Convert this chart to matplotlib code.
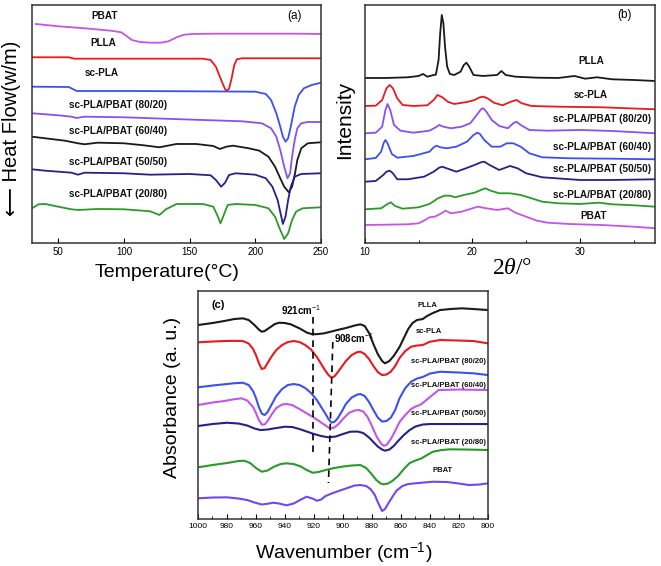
import numpy as np
import matplotlib
matplotlib.use('Agg')
import matplotlib.pyplot as plt

plt.rcParams['font.family'] = ['Liberation Sans', 'DejaVu Sans']
plt.rcParams['mathtext.fontset'] = 'custom'
plt.rcParams['mathtext.rm'] = 'Liberation Sans'
plt.rcParams['mathtext.it'] = 'Liberation Serif:italic'

# colours
BLACK = '#1a1a1a'
RED = '#e8191f'
BLUE = '#3c4ff0'
VIOLET = '#8a50f0'
MAGENTA = '#c455e8'
NAVY = '#22228a'
GREEN = '#2a9a2a'
PURPLE = '#7048f0'

# ---- (a) DSC : temperature (C) vs heat flow (a.u.) ----
a_pbat_t = [33, 50, 70, 90, 98, 102, 106, 112, 120, 128, 134, 140, 146, 152, 170, 200, 230, 250]
a_pbat_h = [219.0, 216.7, 214.7, 212.3, 210.7, 207.0, 203.0, 201.0, 200.3, 200.3, 201.7, 205.7,
            208.3, 209.0, 209.3, 209.3, 209.3, 209.0]
a_plla_t = [30, 58, 62, 100, 150, 160, 166, 170, 174, 177, 178.5, 180, 182, 184, 186, 190, 220, 250]
a_plla_h = [185.7, 185.7, 184.3, 184.3, 184.3, 184.3, 183.0, 176.3, 163.0, 153.7, 152.3, 154.3,
            164.7, 178.0, 183.7, 184.7, 184.7, 184.7]
a_scpla_t = [30, 58, 64, 100, 150, 200, 208, 212, 216, 219, 221, 223, 225, 227, 230, 233, 237, 243, 250]
a_scpla_h = [156.3, 156.0, 152.0, 152.0, 151.7, 151.3, 149.0, 143.0, 129.7, 116.3, 106.3, 101.3,
             104.7, 116.3, 136.3, 148.0, 154.7, 158.0, 160.3]
a_8020_t = [30, 50, 60, 64, 70, 100, 130, 160, 190, 205, 212, 216, 219, 222, 224.5, 226.5, 228, 230,
            232, 235, 240, 250]
a_8020_h = [129.7, 127.7, 126.3, 125.0, 126.3, 125.7, 124.3, 123.0, 121.7, 119.7, 114.7, 106.3, 93.0,
            76.3, 64.7, 69.7, 86.3, 103.0, 114.7, 119.7, 121.0, 121.0]
a_6040_t = [30, 40, 55, 65, 70, 80, 100, 115, 127, 140, 155, 168, 173, 178, 183, 195, 203, 210, 215,
            219, 222, 225.5, 228, 230, 232, 235, 240, 250]
a_6040_h = [106.3, 104.7, 102.3, 99.7, 98.7, 100.3, 99.7, 97.7, 95.7, 99.0, 99.0, 97.0, 94.0, 96.3,
            97.3, 94.7, 92.3, 86.3, 76.3, 64.7, 56.3, 50.7, 56.3, 68.0, 83.0, 94.7, 99.7, 100.7]
a_5050_t = [30, 40, 60, 65, 70, 100, 120, 150, 166, 170, 174, 177, 180, 185, 200, 208, 213, 217,
            219.5, 221, 223, 225, 227, 230, 235, 250]
a_5050_h = [73.7, 72.3, 70.3, 68.3, 70.3, 69.7, 68.3, 69.0, 67.7, 63.0, 56.3, 60.3, 68.0, 69.7, 68.3,
            64.7, 56.3, 43.0, 28.0, 19.0, 26.3, 43.0, 56.3, 66.3, 69.0, 69.7]
a_2080_t = [30, 35, 40, 50, 60, 65, 80, 100, 120, 127, 132, 140, 160, 168, 171, 173.5, 176, 179, 185,
            200, 210, 215, 219, 222, 225, 228, 231, 236, 250]
a_2080_h = [34.7, 38.7, 39.0, 36.3, 33.7, 33.0, 34.0, 33.7, 31.7, 28.0, 33.7, 39.0, 39.0, 36.3, 28.0,
            19.7, 28.0, 38.0, 39.0, 38.0, 34.7, 26.3, 13.0, 4.0, 9.7, 23.0, 31.3, 34.7, 35.7]

# ---- (b) XRD : 2theta vs intensity ----
b_plla_x = [10, 12, 14, 15.0, 15.4, 15.8, 16.4, 16.6, 16.85, 17.0, 17.15, 17.3, 17.45, 17.65, 17.9,
            18.3, 18.9, 19.2, 19.45, 19.7, 20.1, 21, 22.3, 22.7, 23.1, 24, 26, 28, 29.5, 30.5, 31.6,
            33, 35, 37]
b_plla_h = [164.0, 164.0, 164.7, 166.0, 168.0, 165.3, 167.0, 167.3, 182.0, 208.7, 227.0, 218.7, 195.3,
            175.3, 168.0, 167.0, 170.3, 177.0, 179.3, 175.3, 167.0, 166.0, 167.0, 171.0, 167.0, 165.3,
            164.3, 164.0, 166.0, 163.3, 164.7, 162.7, 162.0, 161.0]
b_scpla_x = [10, 11, 11.6, 12.0, 12.3, 12.6, 13.0, 13.5, 14.5, 15.8, 16.4, 16.75, 17.2, 17.7, 18.3,
             19.5, 20.2, 20.7, 21.0, 21.4, 22.0, 22.8, 23.6, 24.1, 24.6, 25.5, 28, 32, 37]
b_scpla_h = [136.0, 136.3, 142.0, 153.7, 157.0, 153.7, 143.7, 137.0, 136.0, 136.7, 142.0, 147.0,
             144.7, 140.3, 138.0, 140.0, 142.0, 144.7, 145.3, 143.7, 139.3, 136.7, 140.3, 142.0,
             138.7, 136.0, 135.3, 134.7, 132.7]
b_8020_x = [10, 11, 11.6, 11.9, 12.1, 12.35, 12.7, 13.3, 14.5, 16.0, 16.6, 16.9, 17.3, 18.0, 19.0,
            19.8, 20.4, 20.8, 21.0, 21.3, 21.8, 22.5, 23.3, 23.8, 24.1, 24.5, 25.3, 27, 30, 33, 37]
b_8020_h = [108.7, 109.3, 115.3, 132.0, 138.0, 132.0, 117.0, 111.3, 109.3, 111.3, 114.7, 117.0, 115.3,
            113.7, 115.3, 118.7, 127.0, 132.7, 133.7, 130.3, 122.0, 116.0, 113.7, 118.7, 120.3, 117.0,
            112.0, 111.3, 112.0, 111.0, 108.7]
b_6040_x = [10, 11, 11.5, 11.75, 11.9, 12.1, 12.5, 13.0, 14.5, 16.0, 16.4, 16.65, 17.0, 17.6, 18.5,
            19.5, 20.1, 20.45, 20.7, 21.1, 21.8, 22.6, 23.2, 23.8, 24.5, 25.3, 26.5, 29, 33, 37]
b_6040_h = [82.7, 84.0, 90.3, 99.3, 102.0, 98.7, 88.0, 84.3, 86.0, 90.3, 94.7, 96.3, 94.7, 93.7, 95.3,
            100.3, 107.0, 109.3, 108.0, 102.0, 95.3, 95.3, 98.7, 98.7, 95.3, 88.7, 84.7, 83.7, 83.3, 82.7]
b_5050_x = [10, 11, 11.7, 12.0, 12.3, 12.6, 13.0, 14, 15.5, 16.4, 16.9, 17.2, 17.6, 18.5, 19.4, 20.2,
            20.8, 21.1, 21.6, 22.5, 23.5, 24.2, 25, 26.5, 30, 33, 37]
b_5050_h = [60.3, 61.0, 67.0, 70.3, 71.3, 68.7, 62.7, 62.7, 65.3, 70.3, 74.3, 75.3, 73.7, 70.3, 73.7,
            77.0, 79.7, 80.3, 77.0, 72.0, 76.0, 73.7, 68.7, 64.7, 62.0, 62.0, 62.7]
b_2080_x = [10, 11.5, 12.1, 12.4, 12.8, 13.5, 15, 16, 16.8, 17.4, 17.9, 18.4, 19.2, 20.2, 20.8, 21.2,
            21.7, 22.5, 23.5, 24.5, 25.5, 26.5, 28, 30, 31.8, 33, 35, 37]
b_2080_h = [32.7, 33.7, 38.0, 39.7, 36.0, 33.3, 34.7, 38.0, 43.7, 46.3, 46.3, 44.7, 47.0, 49.3, 52.0,
            53.7, 51.3, 48.7, 48.7, 47.0, 43.7, 40.3, 38.7, 38.0, 39.3, 37.7, 36.7, 35.3]
b_pbat_x = [10, 12, 14, 15, 15.6, 16.0, 16.5, 17.0, 17.5, 18.0, 19.0, 20.0, 20.5, 21.3, 22.3, 23.3,
            24.0, 25.0, 26.0, 27.0, 29, 32, 35, 37]
b_pbat_h = [17.0, 17.3, 17.7, 18.7, 22.0, 24.7, 25.3, 28.0, 31.3, 28.7, 30.3, 33.7, 35.3, 33.7, 32.0,
            33.7, 29.3, 25.3, 21.3, 19.3, 18.0, 17.0, 15.3, 13.7]

# ---- (c) FTIR : wavenumber vs absorbance ----
c_plla_w = [1000, 990, 982, 975, 969, 965, 961, 958, 956, 954, 951, 947, 944, 940, 936, 930, 925, 921,
            917, 913, 908, 904, 898, 892, 888, 885, 882, 879, 876, 873, 871, 868, 865, 861, 858, 855,
            852, 849, 845, 842, 838, 833, 826, 818, 810, 800]
c_plla_h = [194.0, 196.0, 198.0, 200.0, 200.7, 199.0, 194.0, 189.5, 187.3, 188.0, 191.0, 195.0, 196.3,
            196.0, 194.7, 190.7, 186.5, 184.7, 185.0, 185.7, 187.5, 189.0, 191.0, 193.5, 194.7, 193.0,
            186.0, 175.0, 165.0, 158.0, 155.7, 158.0, 163.0, 172.0, 181.0, 190.0, 196.0, 199.0, 200.0,
            203.0, 206.0, 209.0, 210.0, 210.7, 210.0, 209.0]
c_scpla_w = [1000, 990, 982, 975, 969, 965, 962, 960, 958, 956, 954, 952, 949, 946, 942, 938, 934, 930,
             926, 922, 918, 915, 912, 910, 908, 906, 904, 901, 898, 894, 890, 888, 885, 882, 879, 876,
             873, 870, 867, 864, 861, 857, 853, 849, 845, 840, 833, 820, 810, 800]
c_scpla_h = [176.7, 177.5, 178.0, 178.2, 178.0, 175.5, 170.0, 164.0, 156.0, 150.0, 151.0, 156.0, 163.0,
             169.0, 174.0, 177.0, 178.0, 177.0, 174.0, 169.5, 162.0, 155.0, 148.0, 144.0, 141.5, 142.5,
             146.0, 152.0, 158.0, 164.0, 167.0, 167.3, 165.0, 160.0, 153.0, 147.0, 144.0, 144.5, 147.3,
             153.0, 161.0, 168.0, 172.3, 173.5, 174.0, 177.3, 179.0, 178.5, 178.0, 175.7]
c_8020_w = [1000, 990, 982, 975, 969, 965, 962, 960, 958, 956, 954, 952, 949, 946, 942, 938, 934, 930,
            926, 922, 918, 915, 912, 910, 908, 906, 904, 901, 898, 894, 890, 888, 885, 882, 879, 876,
            873, 870, 867, 864, 861, 857, 853, 849, 845, 840, 833, 820, 810, 800]
c_8020_h = [131.7, 133.5, 134.7, 135.8, 136.3, 134.0, 128.0, 121.0, 112.0, 105.5, 104.0, 107.0, 115.0,
            123.0, 130.0, 134.0, 135.0, 134.0, 131.0, 126.0, 119.0, 112.0, 105.0, 100.0, 96.5, 97.0,
            100.0, 107.0, 115.0, 121.5, 124.5, 125.0, 123.0, 117.0, 109.0, 101.5, 97.5, 98.0, 101.3,
            109.0, 120.7, 131.0, 137.3, 140.5, 142.0, 145.5, 147.3, 146.5, 145.7, 144.0]
c_6040_w = [1000, 990, 982, 975, 970, 966, 962, 960, 958, 956, 954, 952, 949, 946, 942, 939, 935, 930,
            926, 921, 917, 913, 910, 908, 906, 903, 900, 896, 892, 889, 886, 883, 880, 877, 874, 872,
            870, 867, 864, 861, 857, 853, 850, 847, 845, 840, 834, 820, 800]
c_6040_h = [114.0, 116.5, 118.0, 119.8, 120.7, 118.5, 112.0, 106.0, 99.0, 94.5, 94.5, 98.0, 105.0,
            111.0, 114.5, 115.0, 114.0, 110.0, 106.5, 102.3, 98.5, 94.5, 91.5, 90.7, 91.5, 95.0, 100.0,
            106.0, 108.5, 109.0, 107.5, 102.0, 93.0, 83.0, 76.0, 73.3, 74.0, 80.0, 88.0, 97.0, 104.0,
            110.0, 112.5, 114.0, 116.0, 122.0, 129.0, 129.5, 129.0]
c_5050_w = [1000, 990, 980, 972, 966, 961, 957, 952, 946, 940, 935, 930, 925, 920, 915, 910, 905, 900,
            895, 890, 886, 882, 879, 876, 873, 871, 868, 865, 862, 858, 854, 850, 845, 840, 830, 815, 800]
c_5050_h = [93.0, 95.0, 96.3, 95.5, 93.5, 90.5, 89.0, 89.5, 91.0, 92.3, 92.0, 90.0, 87.5, 85.0, 83.0,
            81.7, 82.5, 85.0, 87.3, 87.5, 86.0, 81.5, 77.0, 72.5, 69.5, 68.3, 69.5, 73.0, 78.0, 84.0,
            89.0, 92.5, 94.5, 95.0, 95.0, 95.0, 95.0]
c_2080_w = [1000, 990, 980, 972, 968, 964, 960, 956, 952, 948, 943, 939, 934, 929, 925, 921, 917, 912,
            906, 900, 894, 888, 884, 880, 877, 874, 872, 869, 866, 862, 858, 854, 850, 846, 842, 838,
            832, 826, 815, 800]
c_2080_h = [51.7, 54.0, 56.0, 58.0, 58.3, 56.0, 51.0, 47.3, 48.5, 52.0, 55.0, 55.7, 55.0, 52.5, 49.0,
            46.3, 47.0, 49.0, 51.0, 52.5, 53.5, 54.0, 51.0, 44.5, 39.0, 35.5, 34.7, 35.5, 38.0, 43.0,
            50.0, 56.0, 58.5, 60.5, 64.0, 67.3, 69.0, 69.7, 69.5, 69.0]
c_pbat_w = [1000, 990, 980, 972, 966, 961, 956, 951, 948, 944, 939, 934, 929, 925, 921, 918, 915, 912,
            907, 902, 897, 892, 888, 884, 881, 878, 876, 874, 873, 871, 869, 866, 863, 859, 855, 848,
            838, 828, 820, 813, 806, 800]
c_pbat_h = [20.7, 21.5, 21.7, 20.5, 19.0, 16.5, 14.5, 15.5, 16.3, 15.5, 13.7, 15.5, 19.5, 22.3, 20.5,
            18.3, 19.5, 23.0, 26.0, 28.5, 31.0, 33.5, 34.0, 33.0, 30.0, 24.0, 17.0, 11.0, 8.0, 10.0,
            15.0, 22.0, 28.5, 33.0, 35.0, 36.0, 37.3, 37.0, 35.5, 34.0, 34.5, 35.7]

# marker lines at 921 and 908 cm-1
line921_w = [921, 921]
line921_h = [202, 65]
line908_w = [907, 910]
line908_h = [177, 36]

names = ['PBAT', 'PLLA', 'sc-PLA', 'sc-PLA/PBAT (80/20)', 'sc-PLA/PBAT (60/40)',
         'sc-PLA/PBAT (50/50)', 'sc-PLA/PBAT (20/80)']

fig = plt.figure(figsize=(6.61, 5.66), dpi=100)
ax_a = fig.add_axes([0.0484, 0.5707, 0.4372, 0.4205])
ax_b = fig.add_axes([0.5522, 0.5707, 0.4387, 0.4205])
ax_c = fig.add_axes([0.2995, 0.0830, 0.4387, 0.4028])


def style(ax, size):
    for s in ax.spines.values():
        s.set_linewidth(1.1)
        s.set_color('#333333')
    ax.set_yticks([])
    ax.tick_params(axis='x', which='both', direction='in', top=False, labelsize=size, pad=3)
    ax.tick_params(axis='x', which='major', length=3.5)
    ax.tick_params(axis='x', which='minor', length=2)


lab = dict(fontsize=7.2, fontweight='bold', color='#111111', va='center')

# panel (a)
lw = 1.3
ax_a.plot(a_pbat_t, a_pbat_h, color=MAGENTA, lw=lw)
ax_a.plot(a_plla_t, a_plla_h, color=RED, lw=lw)
ax_a.plot(a_scpla_t, a_scpla_h, color=BLUE, lw=lw)
ax_a.plot(a_8020_t, a_8020_h, color=VIOLET, lw=lw)
ax_a.plot(a_6040_t, a_6040_h, color=BLACK, lw=lw)
ax_a.plot(a_5050_t, a_5050_h, color=NAVY, lw=lw)
ax_a.plot(a_2080_t, a_2080_h, color=GREEN, lw=lw)
ax_a.set_xlim(30, 250)
ax_a.set_ylim(0, 238)
ax_a.set_xticks([50, 100, 150, 200, 250])
style(ax_a, 7)
ax_a.text(85.4, 227, names[0], ha='center', **lab)
ax_a.text(84, 199.7, names[1], ha='center', **lab)
ax_a.text(82.8, 169.7, names[2], ha='center', **lab)
for name, hy in zip(names[3:], [138, 112, 80.7, 49]):
    ax_a.text(95.5, hy, name, ha='center', **lab)
ax_a.text(229.9, 227, '(a)', ha='center', va='center', fontsize=8.5)

# panel (b)
ax_b.plot(b_plla_x, b_plla_h, color=BLACK, lw=lw)
ax_b.plot(b_scpla_x, b_scpla_h, color=RED, lw=lw)
ax_b.plot(b_8020_x, b_8020_h, color=VIOLET, lw=lw)
ax_b.plot(b_6040_x, b_6040_h, color=BLUE, lw=lw)
ax_b.plot(b_5050_x, b_5050_h, color=NAVY, lw=lw)
ax_b.plot(b_2080_x, b_2080_h, color=GREEN, lw=lw)
ax_b.plot(b_pbat_x, b_pbat_h, color=MAGENTA, lw=lw)
ax_b.set_xlim(10, 37)
ax_b.set_ylim(-1, 237)
ax_b.set_xticks([10, 20, 30])
ax_b.set_xticks([15, 25, 35], minor=True)
style(ax_b, 7)
ax_b.text(31.05, 181, 'PLLA', ha='center', **lab)
ax_b.text(31.0, 147, 'sc-PLA', ha='center', **lab)
for name, hy in zip(names[3:], [122.7, 95.3, 72.7, 47]):
    ax_b.text(32.1, hy, name, ha='center', **lab)
ax_b.text(31.3, 26, 'PBAT', ha='center', **lab)
ax_b.text(34.2, 227, '(b)', ha='center', va='center', fontsize=8.5)

# panel (c)
lw_c = 1.5
ax_c.plot(c_plla_w, c_plla_h, color=BLACK, lw=lw_c)
ax_c.plot(c_scpla_w, c_scpla_h, color=RED, lw=lw_c)
ax_c.plot(c_8020_w, c_8020_h, color=BLUE, lw=lw_c)
ax_c.plot(c_6040_w, c_6040_h, color=MAGENTA, lw=lw_c)
ax_c.plot(c_5050_w, c_5050_h, color=NAVY, lw=lw_c)
ax_c.plot(c_2080_w, c_2080_h, color=GREEN, lw=lw_c)
ax_c.plot(c_pbat_w, c_pbat_h, color=PURPLE, lw=lw_c)
ax_c.plot(line921_w, line921_h, color='black', lw=1.2, ls=(0, (4, 3)))
ax_c.plot(line908_w, line908_h, color='black', lw=1.2, ls=(0, (4, 3)))
ax_c.set_xlim(1000, 800)
ax_c.set_ylim(0, 228)
ax_c.set_xticks(np.arange(1000, 799, -20))
ax_c.set_xticks(np.arange(990, 800, -20), minor=True)
style(ax_c, 6)
labc = dict(lab, fontsize=5.5)
ax_c.text(842, 214, 'PLLA', ha='center', **labc)
ax_c.text(841, 188, 'sc-PLA', ha='center', **labc)
for name, hy in zip(names[3:], [157.3, 134, 105.7, 76.3]):
    ax_c.text(827.4, hy, name, ha='center', **labc)
ax_c.text(831.2, 48.3, 'PBAT', ha='center', **labc)
ax_c.text(986, 214, '(c)', ha='center', va='center', fontsize=8, fontweight='bold')
ax_c.text(929.2, 209, '921cm$^{-1}$', ha='center', va='center', fontsize=7, fontweight='bold')
ax_c.text(906.5, 180.7, '908cm$^{-1}$', ha='left', va='center', fontsize=7, fontweight='bold')

# axis titles
fig.text(0.2534, 0.5194, 'Temperature(°C)', ha='center', va='center', fontsize=14)
fig.text(0.018, 0.774, '\u27f5 Heat Flow(w/m)', ha='center', va='center', rotation=90,
         fontsize=14.5)
fig.text(0.522, 0.788, 'Intensity', ha='center', va='center', rotation=90, fontsize=15)
fig.text(0.775, 0.5265, '2$\\theta$/°', ha='center', va='center', fontsize=17,
         family=['Liberation Serif', 'DejaVu Serif'])
fig.text(0.5195, 0.023, 'Wavenumber (cm$^{-1}$)', ha='center', va='center', fontsize=14)
fig.text(0.2605, 0.2977, 'Absorbance (a. u.)', ha='center', va='center', rotation=90, fontsize=14)

fig.savefig('out.png', dpi=100)
